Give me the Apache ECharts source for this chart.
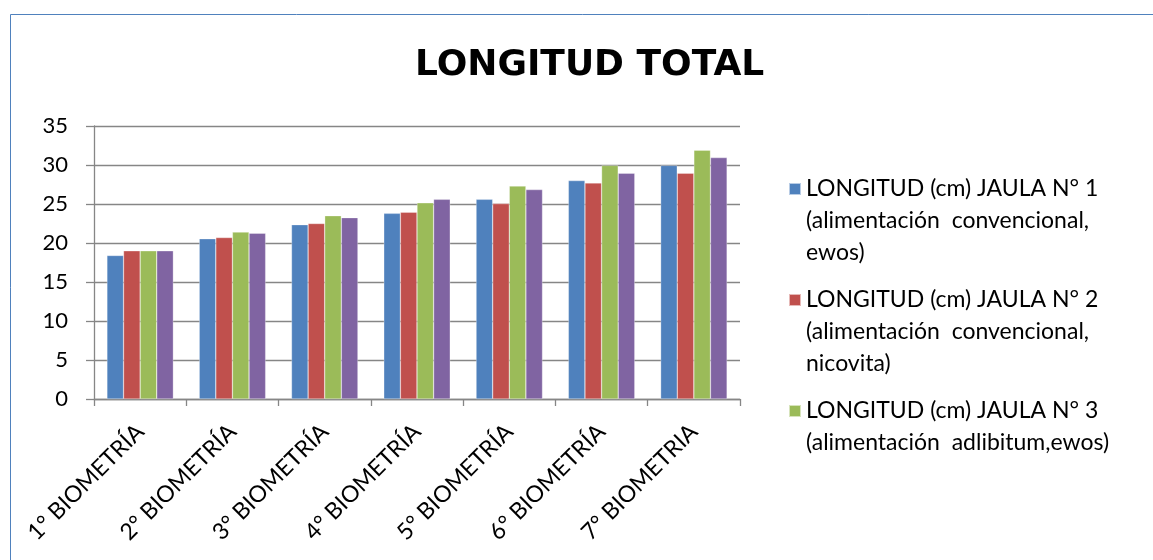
<!DOCTYPE html>
<html>
<head>
<meta charset="utf-8">
<script src="https://cdn.jsdelivr.net/npm/echarts@6/dist/echarts.min.js"></script>
<style>html,body{margin:0;padding:0;background:#fff}#c{width:1153px;height:560px}</style>
</head>
<body>
<div id="c"></div>
<script>
const categories = ['1° BIOMETRÍA','2° BIOMETRÍA','3° BIOMETRÍA','4° BIOMETRÍA','5° BIOMETRÍA','6° BIOMETRÍA','7° BIOMETRIA'];
const seriesNames = [
  'LONGITUD (cm) JAULA N° 1\n(alimentación  convencional,\newos)',
  'LONGITUD (cm) JAULA N° 2\n(alimentación  convencional,\nnicovita)',
  'LONGITUD (cm) JAULA N° 3\n(alimentación  adlibitum,ewos)\n',
  'LONGITUD (cm) JAULA N° 4'
];
const jaula1 = [18.4, 20.55, 22.35, 23.8, 25.6, 28.0, 29.95];
const jaula2 = [19.0, 20.7, 22.5, 23.95, 25.05, 27.7, 28.95];
const jaula3 = [19.0, 21.4, 23.5, 25.15, 27.3, 29.95, 31.9];
const jaula4 = [19.0, 21.25, 23.25, 25.6, 26.85, 28.95, 30.95];
const colors = ['#4f81bd','#c0504d','#9bbb59','#8064a2'];
const yTicks = {min:0, max:35, interval:5};

const FONT = 'Lato';
const chart = echarts.init(document.getElementById('c'));
const dataArr = [jaula1, jaula2, jaula3, jaula4];
chart.setOption({
  animation: false,
  color: colors,
  title: {text: 'LONGITUD TOTAL', left: 410, top: 43,
    textStyle: {fontFamily: 'DejaVu Sans', fontWeight: 'bold', fontSize: 36, color: '#000'}},
  legend: {
    data: seriesNames.slice(0, 3),
    icon: 'path://M0,0L12,0L12,12L0,12Z M0,76L0.01,76Z',
    left: 783, top: 168, orient: 'vertical',
    itemWidth: 12, itemHeight: 76, itemGap: 15,
    selectedMode: false,
    textStyle: {fontFamily: FONT, fontSize: 23, color: '#000', lineHeight: 32}
  },
  graphic: [{type: 'rect', shape: {x: 10.5, y: 14.5, width: 1300, height: 700},
    style: {fill: 'none', stroke: '#4f81bd', lineWidth: 1}, silent: true}],
  grid: {left: 94, right: 413, top: 126, bottom: 161},
  xAxis: {type: 'category', data: categories,
    axisLine: {lineStyle: {color: '#868686', width: 1.3}},
    axisTick: {show: true, alignWithLabel: false, length: 7, lineStyle: {color: '#868686', width: 1.3}},
    axisLabel: {rotate: 45, margin: 29, fontFamily: FONT, fontSize: 23, color: '#000', interval: 0}
  },
  yAxis: {type: 'value', min: yTicks.min, max: yTicks.max, interval: yTicks.interval,
    axisLine: {show: true, lineStyle: {color: '#868686', width: 1.3}},
    axisTick: {show: true, length: 8, lineStyle: {color: '#868686', width: 1.3}},
    splitLine: {lineStyle: {color: '#868686', width: 1.3}},
    axisLabel: {margin: 26, fontFamily: FONT, fontSize: 22, color: '#000'}
  },
  series: dataArr.map((d, i) => ({
    name: seriesNames[i], type: 'bar', data: d,
    barGap: '0%', barCategoryGap: '28%',
    itemStyle: {color: colors[i], borderColor: 'rgba(255,255,255,0.6)', borderWidth: 0.5}
  }))
});
</script>
</body>
</html>
